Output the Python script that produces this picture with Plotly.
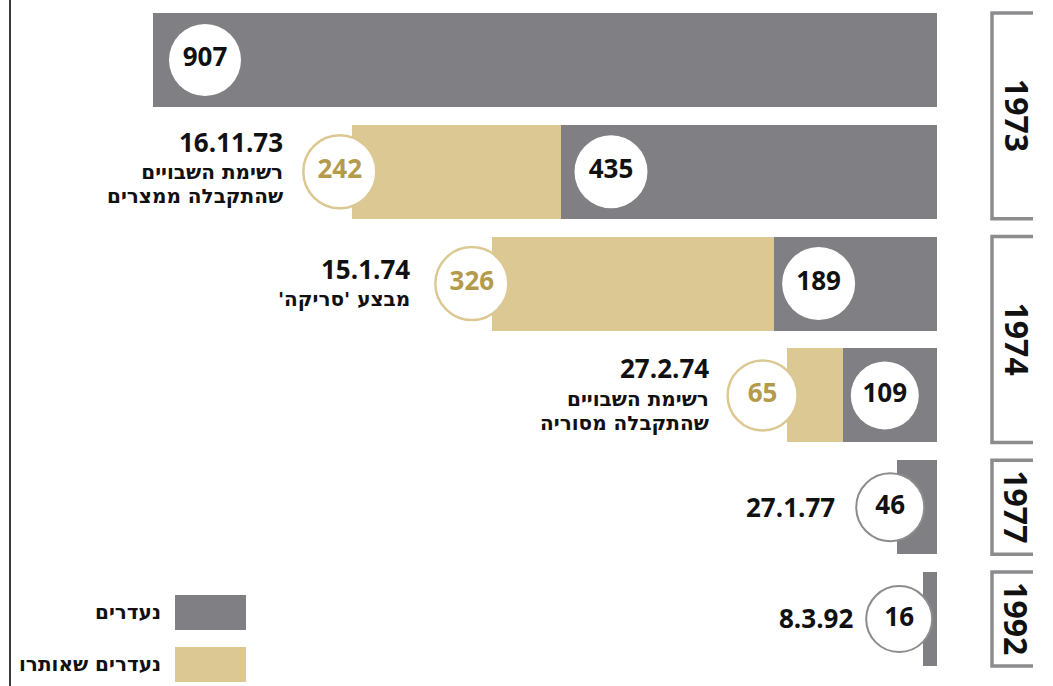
import plotly.graph_objects as go

# ---- data -------------------------------------------------------------
missing = [907, 435, 189, 109, 46, 16]          # נעדרים
located = [0, 242, 326, 65, 0, 0]               # נעדרים שאותרו
dates = ["", "16.11.73", "15.1.74", "27.2.74", "27.1.77", "8.3.92"]
notes = [
    [],
    ["רשימת השבויים", "שהתקבלה ממצרים"],
    ["מבצע 'סריקה'\u200F"],
    ["רשימת השבויים", "שהתקבלה מסוריה"],
    [],
    [],
]
year_labels = ["1973", "1974", "1977", "1992"]
year_first_row = [0, 2, 4, 5]
year_last_row = [1, 3, 4, 5]
legend_labels = ["נעדרים", "נעדרים שאותרו"]

# ---- styling / geometry ----------------------------------------------
W, H = 1053, 686
M_L, M_R, M_T, M_B = 0, 116, 4, 11
PLOT_W = W - M_L - M_R
PLOT_H = H - M_T - M_B
X_MAX = 1084
PX = PLOT_W / X_MAX          # pixels per unit
BAR_W = 0.84

GRAY = "#808084"
BEIGE = "#dcc893"
GOLD = "#b39b4b"
RING_GRAY = "#8c8c8e"
INK = "#111111"
FONT = "Open Sans, DejaVu Sans, sans-serif"
HEB_FONT = "DejaVu Sans, Liberation Sans, sans-serif"

rows = list(range(len(missing)))

# circle offsets (px) from the left end of each grey segment; negative = outside
gray_off = [52, 50, 45, 42, -7, -24]
gray_size = [72, 73, 73, 68, 68, 66]
# circle offsets (px) left of the beige segment end
beige_off = [0, 12, 20, 24, 0, 0]
beige_size = [0, 73, 73, 70, 0, 0]

# label placement relative to the circle that precedes it (px)
label_dx = [0, -55, -60, -52, -53, -44]
date_dy = [0, 30, 15, 27, 0, 1]
note_dy = [0, -12, -15, -16, 0, 0]


def px_x(px):
    return (px - M_L) / PLOT_W


def px_y(py):
    return (H - M_B - py) / PLOT_H


fig = go.Figure()

fig.add_trace(go.Bar(
    y=rows, x=missing, orientation="h", width=BAR_W,
    marker=dict(color=GRAY, line=dict(width=0)),
    hoverinfo="skip", showlegend=False,
))
fig.add_trace(go.Bar(
    y=rows, x=located, orientation="h", width=BAR_W,
    marker=dict(color=BEIGE, line=dict(width=0)),
    hoverinfo="skip", showlegend=False,
))

# count badges for the missing values
gx = [m - off / PX for m, off in zip(missing, gray_off)]
inside = [i for i in rows if gray_off[i] > 0]
outside = [i for i in rows if gray_off[i] <= 0]
for idx, ring in ((inside, None), (outside, RING_GRAY)):
    fig.add_trace(go.Scatter(
        x=[gx[i] for i in idx], y=idx, mode="markers+text",
        text=[str(missing[i]) for i in idx], textposition="middle center",
        textfont=dict(family=FONT, size=26, color=INK, weight="bold"),
        marker=dict(size=[gray_size[i] for i in idx], color="white", opacity=1,
                    line=dict(width=2 if ring else 0, color=ring or "white")),
        cliponaxis=False, hoverinfo="skip", showlegend=False,
    ))

# count badges for the located values
bidx = [i for i in rows if located[i] > 0]
bx = [missing[i] + located[i] + beige_off[i] / PX for i in rows]
fig.add_trace(go.Scatter(
    x=[bx[i] for i in bidx], y=bidx, mode="markers+text",
    text=[str(located[i]) for i in bidx], textposition="middle center",
    textfont=dict(family=FONT, size=26, color=GOLD, weight="bold"),
    marker=dict(size=[beige_size[i] for i in bidx], color="white", opacity=1,
                line=dict(width=2.5, color=BEIGE)),
    cliponaxis=False, hoverinfo="skip", showlegend=False,
))

annotations = []
for i in rows:
    if not dates[i]:
        continue
    anchor_x = bx[i] if located[i] > 0 else gx[i]
    annotations.append(dict(
        x=anchor_x, y=i, xref="x", yref="y", xanchor="right", yanchor="middle",
        xshift=label_dx[i], yshift=date_dy[i], showarrow=False, align="right",
        text=dates[i], font=dict(family=FONT, size=26, color=INK, weight="bold"),
    ))
    if notes[i]:
        # base size sets the line pitch; the span sets the glyph size
        txt = "<br>".join(f"<span style='font-size:20px'>{ln}</span>" for ln in notes[i])
        annotations.append(dict(
            x=anchor_x, y=i, xref="x", yref="y", xanchor="right", yanchor="middle",
            xshift=label_dx[i], yshift=note_dy[i], showarrow=False, align="right",
            text=txt, font=dict(family=HEB_FONT, size=18.5, color=INK, weight="bold"),
        ))

shapes = []
# year brackets
bx0, bx1 = px_x(992), px_x(1033)
for lab, r0, r1 in zip(year_labels, year_first_row, year_last_row):
    y_top = r0 - BAR_W / 2
    y_bot = r1 + BAR_W / 2
    shapes.append(dict(
        type="path", xref="paper", yref="y",
        path=f"M {bx1},{y_top} L {bx0},{y_top} L {bx0},{y_bot} L {bx1},{y_bot}",
        line=dict(color=RING_GRAY, width=3.5),
    ))
    annotations.append(dict(
        x=px_x(1017), y=(r0 + r1) / 2, xref="paper", yref="y",
        xanchor="center", yanchor="middle", textangle=90, showarrow=False,
        text=lab, font=dict(family=FONT, size=32, color=INK, weight="bold"),
    ))

# left rule
shapes.append(dict(
    type="line", xref="paper", yref="paper",
    x0=px_x(10), x1=px_x(10), y0=px_y(H + 2), y1=px_y(-2),
    line=dict(color="#3a3a3a", width=2),
))

# legend
for lab, col, top in zip(legend_labels, [GRAY, BEIGE], [595, 647]):
    shapes.append(dict(
        type="rect", xref="paper", yref="paper",
        x0=px_x(175), x1=px_x(246), y0=px_y(top + 35), y1=px_y(top),
        fillcolor=col, line=dict(width=0),
    ))
    annotations.append(dict(
        x=px_x(163), y=px_y(top + 17), xref="paper", yref="paper",
        xanchor="right", yanchor="middle", showarrow=False,
        text=lab, font=dict(family=HEB_FONT, size=20, color=INK, weight="bold"),
    ))

fig.update_layout(
    width=W, height=H,
    margin=dict(l=M_L, r=M_R, t=M_T, b=M_B, pad=0),
    barmode="stack",
    plot_bgcolor="white", paper_bgcolor="white",
    xaxis=dict(range=[X_MAX, 0], visible=False, fixedrange=True),
    yaxis=dict(range=[len(rows) - 0.5, -0.5], visible=False, fixedrange=True),
    shapes=shapes, annotations=annotations,
    showlegend=False,
)

fig.write_html("out.html", config={"displayModeBar": False})
